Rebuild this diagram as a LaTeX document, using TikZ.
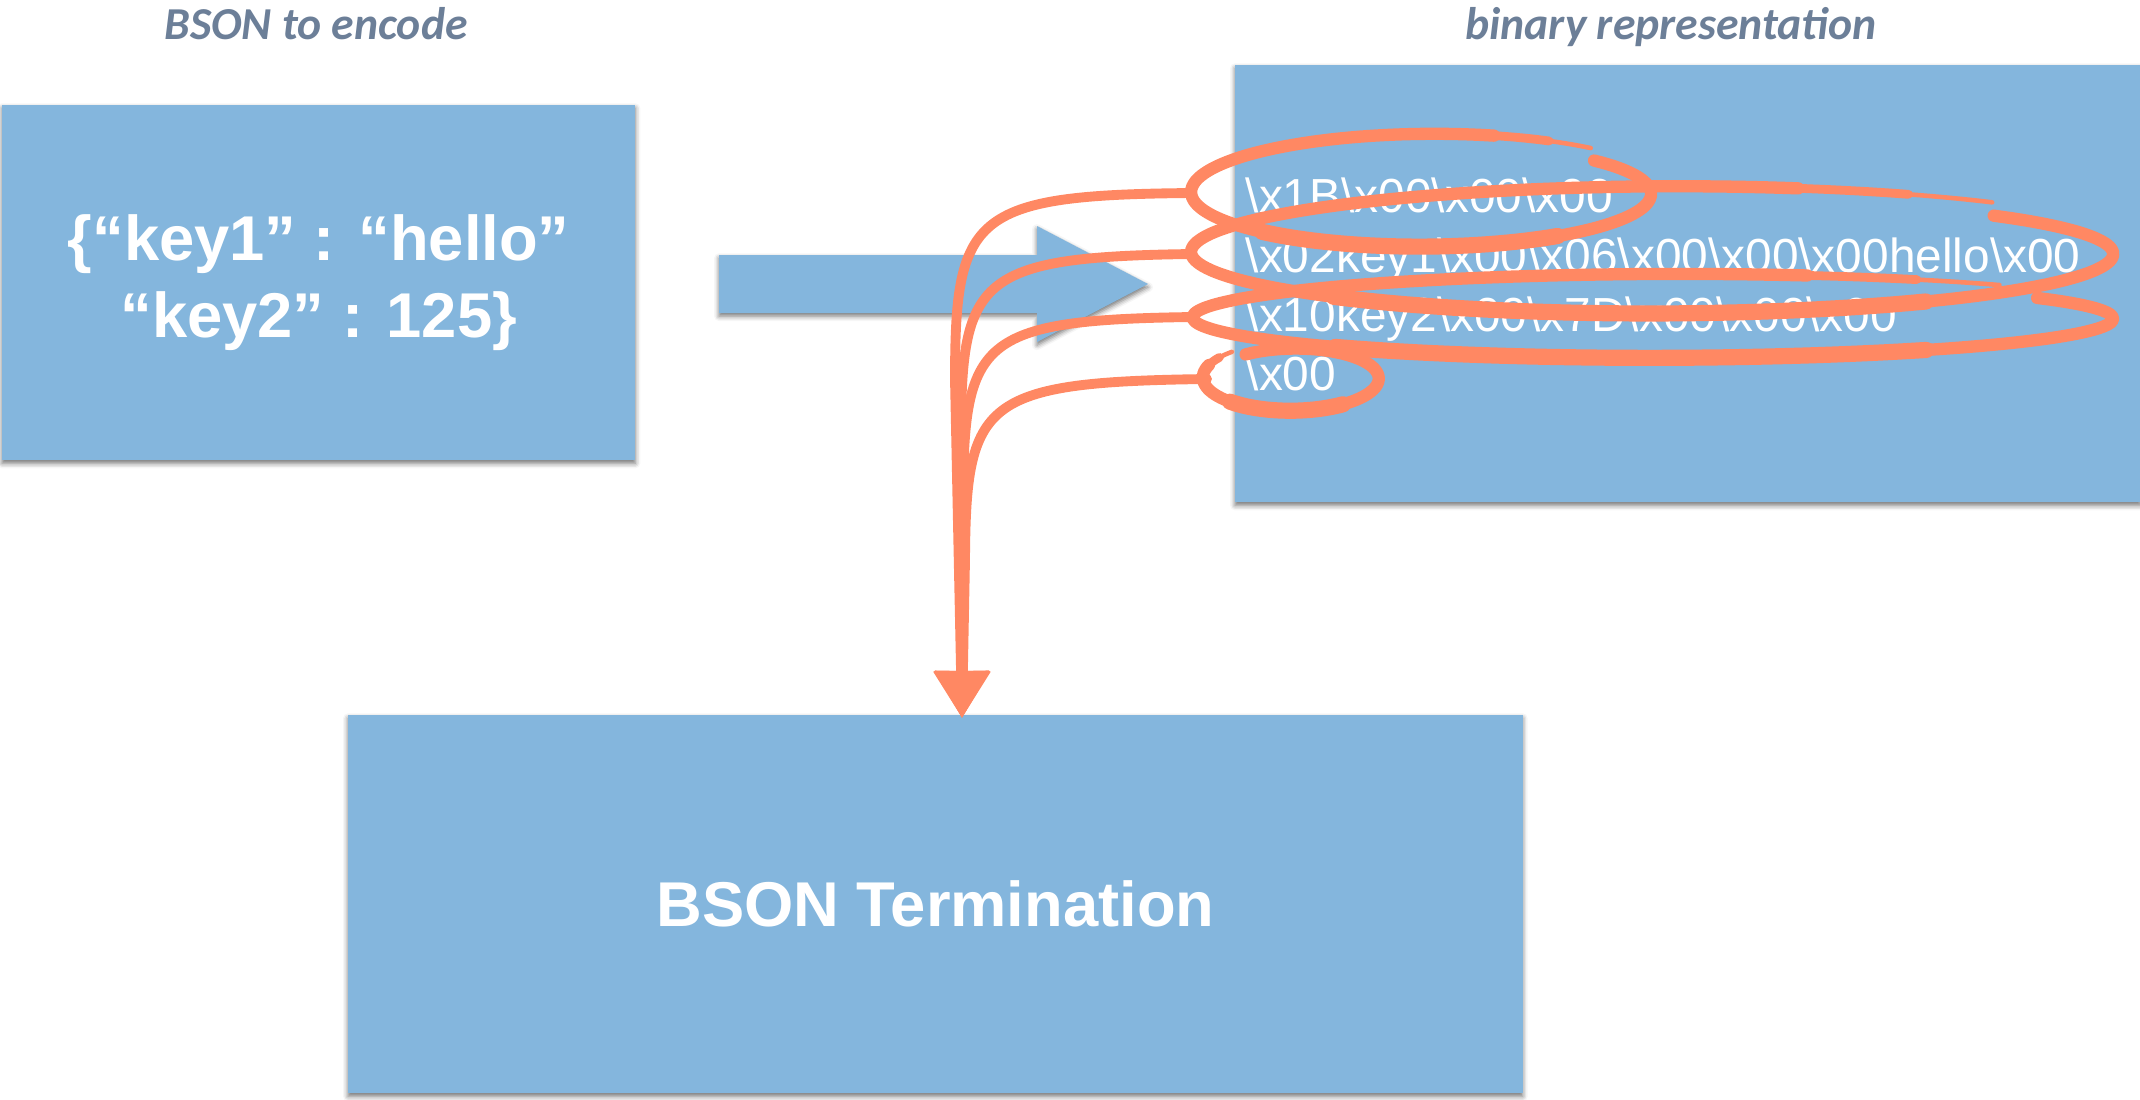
\documentclass[tikz,border=0pt]{standalone}
\usepackage{fontspec}
\setmainfont{Liberation Sans}
\newfontfamily\captionfont{Carlito}
\usetikzlibrary{arrows.meta,shadows.blur}

\definecolor{panelblue}{HTML}{84B6DD}
\definecolor{markorange}{HTML}{FF8863}
\definecolor{captiongray}{HTML}{6C7F98}

\newcommand{\bsl}{\textbackslash}

% Hand-drawn loop: centre (#1,#2), radii #3,#4, from angle #5 to angle #6,
% drawn as a slight spiral, heavier along the bottom (from angle #7 on),
% with a tapering tail.
\newcommand{\loopx}[6]{#1+#3*(0.95+0.10*(\t-(#5))/((#6)-(#5)))*cos(\t)}
\newcommand{\loopy}[6]{#2+#4*(0.90+0.20*(\t-(#5))/((#6)-(#5)))*sin(\t)}
\newcommand{\handloop}[7]{%
  \pgfmathsetmacro{\tailA}{#6-26}%
  \pgfmathsetmacro{\tailB}{#6-12}%
  \pgfmathsetmacro{\heavyB}{#7+80}%
  \draw[loopline] plot[smooth, samples=90, domain=#5:\tailA, variable=\t]
    ({\loopx{#1}{#2}{#3}{#4}{#5}{#6}}, {\loopy{#1}{#2}{#3}{#4}{#5}{#6}});
  \draw[loopline, line width=4.6pt] plot[smooth, samples=30, domain=#7:\heavyB, variable=\t]
    ({\loopx{#1}{#2}{#3}{#4}{#5}{#6}}, {\loopy{#1}{#2}{#3}{#4}{#5}{#6}});
  \draw[loopline, line width=2.5pt] plot[smooth, samples=12, domain=\tailA:\tailB, variable=\t]
    ({\loopx{#1}{#2}{#3}{#4}{#5}{#6}}, {\loopy{#1}{#2}{#3}{#4}{#5}{#6}});
  \draw[loopline, line width=1.3pt] plot[smooth, samples=12, domain=\tailB:#6, variable=\t]
    ({\loopx{#1}{#2}{#3}{#4}{#5}{#6}}, {\loopy{#1}{#2}{#3}{#4}{#5}{#6}});
}

\begin{document}
\begin{tikzpicture}[x=0.01cm, y=-0.01cm,
  panel/.style={fill=panelblue, draw=none, inner sep=0pt, outer sep=0pt,
    anchor=north west,
    blur shadow={shadow xshift=0pt, shadow yshift=-0.9pt,
                 shadow blur radius=1.4pt, shadow opacity=55}},
  caption/.style={text=captiongray, anchor=base,
    font=\captionfont\bfseries\itshape\fontsize{13}{15}\selectfont},
  bigtext/.style={text=white, font=\bfseries\fontsize{18}{21.9}\selectfont, align=center},
  bytes/.style={text=white, anchor=base west, inner sep=0pt,
    font=\fontsize{13.6}{16}\selectfont},
  loopline/.style={draw=markorange, line width=3.5pt, line cap=round, line join=round},
  link/.style={draw=markorange, line width=2.8pt, line cap=round,
    -{Triangle[width=0.53cm, length=0.47cm]}}
]
\useasboundingbox (0,0) rectangle (2140,1099);

% captions
\node[caption] (capsrc) at (316,39) {BSON to encode};
\node[caption] (capbin) at (1671,39) {binary representation};

% panels
\node[panel, minimum width=6.33cm, minimum height=3.55cm] (src) at (2,105) {};
\node[bigtext] (srctext) at (src.center) {\{“key1” : “hello”\\“key2” : 125\}};

\node[panel, minimum width=9.05cm, minimum height=4.37cm] (bin) at (1235,65) {};

\node[panel, minimum width=11.74cm, minimum height=3.78cm] (term) at (348,715) {};
\node[bigtext] (termtext) at (term.center) {BSON Termination};

% block arrow between the two upper panels
\fill[panelblue, blur shadow={shadow xshift=0pt, shadow yshift=-0.9pt,
      shadow blur radius=1.4pt, shadow opacity=55}]
  (719,255) -- (1037,255) -- (1037,226) -- (1148,284) -- (1037,342)
  -- (1037,313) -- (719,313) -- cycle;

% encoded bytes
\node[bytes] (b1) at (1245,212) {\bsl x1B\bsl x00\bsl x00\bsl x00};
\node[bytes] (b2) at (1245,272) {\bsl x02key1\bsl x00\bsl x06\bsl x00\bsl x00\bsl x00hello\bsl x00};
\node[bytes] (b3) at (1245,331) {\bsl x10key2\bsl x00\bsl x7D\bsl x00\bsl x00\bsl x00};
\node[bytes] (b4) at (1245,390) {\bsl x00};

% hand-drawn marks around each group of bytes
\handloop{1427}{193}{233}{55}{-41}{312}{55}
\handloop{1664}{253}{467}{62}{-42}{312}{55}
\handloop{1665}{318}{467}{41}{-33}{313}{55}
\handloop{1293}{378}{87}{32}{235}{588}{415}

% loose ends of the marks and the arrow tip
\coordinate (m1) at (1191,193);
\coordinate (m2) at (1191,254);
\coordinate (m3) at (1192,317);
\coordinate (m4) at (1207,379);
\coordinate (tip) at (962,718);

% connectors from each mark down to the termination panel
\draw[link] (m1) .. controls (972,195) and (955,215) .. (955,380) -- (tip);
\draw[link] (m2) .. controls (976,257) and (961,278) .. (961,440) -- (tip);
\draw[link] (m3) .. controls (978,320) and (964,340) .. (963,500) -- (tip);
\draw[link] (m4) .. controls (982,382) and (966,400) .. (965,560) -- (tip);
\end{tikzpicture}
\end{document}
